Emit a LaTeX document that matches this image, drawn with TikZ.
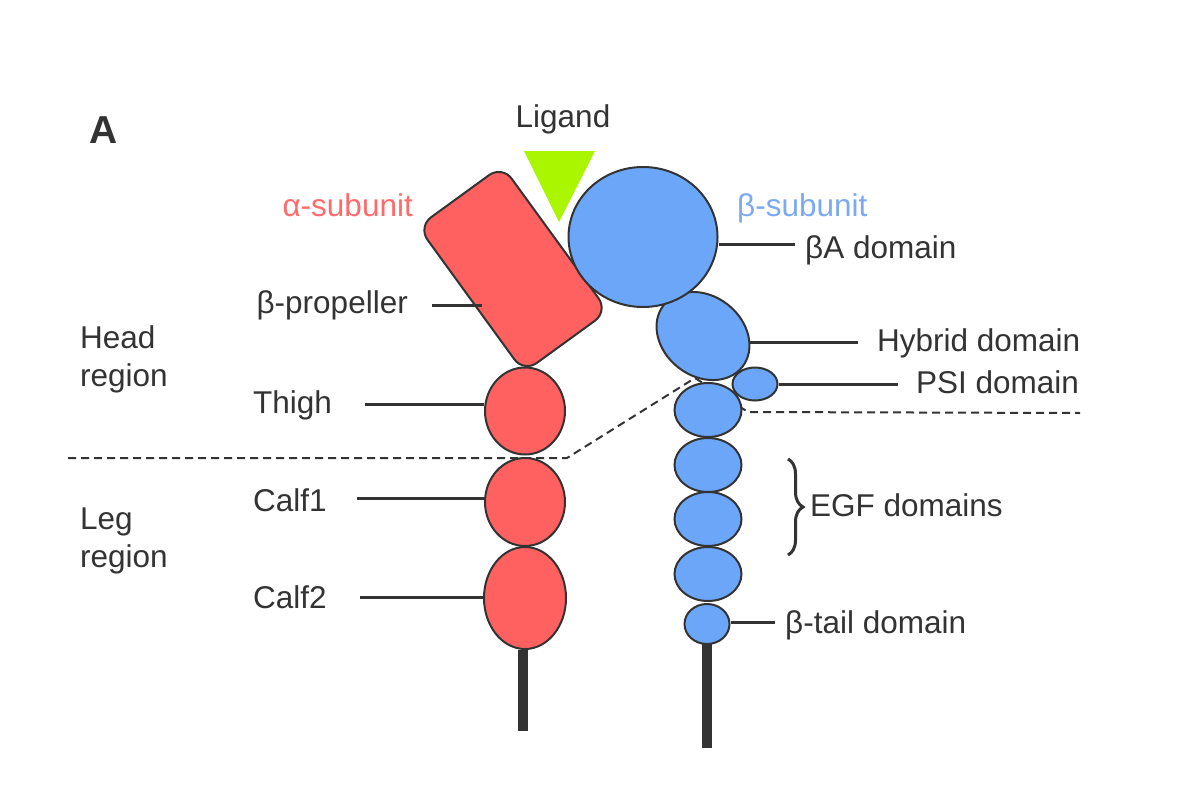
\documentclass[tikz,border=0pt]{standalone}
\usepackage{fontspec}
\setmainfont{Liberation Sans}
\usetikzlibrary{shapes.geometric,decorations.pathreplacing}
\definecolor{redf}{HTML}{FF6161}
\definecolor{bluef}{HTML}{6CA6F8}
\definecolor{greenf}{HTML}{AAF500}
\definecolor{ink}{HTML}{333333}
\definecolor{alab}{HTML}{FF6B6B}
\definecolor{blab}{HTML}{7BA9F2}
\begin{document}
\begin{tikzpicture}[x=1pt,y=-1pt,
  lbl/.style={font=\fontsize{31.5}{38}\selectfont, text=ink, inner sep=0pt, anchor=base west},
  dom/.style={ellipse, draw=ink, line width=2pt, inner sep=0pt},
  rdom/.style={dom, fill=redf},
  bdom/.style={dom, fill=bluef},
  lead/.style={draw=ink, line width=3pt},
  stem/.style={draw=ink, line width=10pt},
  sep/.style={draw=ink, line width=2pt, dash pattern=on 8pt off 5pt}]
\useasboundingbox (0,0) rectangle (1200,800);
\fill[white] (0,0) rectangle (1200,800);

% region separator
\coordinate (d1) at (68,458);
\coordinate (d2) at (567,458);
\coordinate (d3) at (695,378);
\coordinate (d4) at (748,412);
\coordinate (d5) at (1080,413);
\draw[sep] (d1) -- (d2) -- (d3) -- (d4) -- (d5);

% stems
\coordinate (rs1) at (523,650);
\coordinate (rs2) at (523,731);
\coordinate (bs1) at (707,640);
\coordinate (bs2) at (707,748);
\draw[stem] (rs1) -- (rs2);
\draw[stem] (bs1) -- (bs2);

% alpha subunit
\node[draw=ink, line width=2pt, fill=redf, rounded corners=16pt, minimum width=180, minimum height=104, rotate=-54] (prop) at (513,269) {};
\node[rdom, minimum width=80, minimum height=87] (thigh) at (525,411) {};
\node[rdom, minimum width=80, minimum height=88] (calf1) at (525,502) {};
\node[rdom, minimum width=82, minimum height=102] (calf2) at (525,598) {};

% beta subunit
\node[bdom, minimum width=67, minimum height=54] (egf4) at (708,574) {};
\node[bdom, minimum width=67, minimum height=54] (egf3) at (708,519) {};
\node[bdom, minimum width=67, minimum height=54] (egf2) at (708,465) {};
\node[bdom, minimum width=67, minimum height=54] (egf1) at (708,410) {};
\node[bdom, minimum width=45, minimum height=40] (tail) at (707,624) {};
\node[bdom, minimum width=45, minimum height=33] (psi) at (755,384) {};
\node[bdom, minimum width=100, minimum height=80, rotate=-38] (hyb) at (703,336) {};
\node[bdom, minimum width=149, minimum height=140] (bA) at (643,237) {};

% ligand
\coordinate (g1) at (524,151);
\coordinate (g2) at (595,151);
\coordinate (g3) at (559,222);
\fill[greenf] (g1) -- (g2) -- (g3) -- cycle;

% texts
\node[font=\bfseries\fontsize{39}{44}\selectfont, text=ink, inner sep=0pt] (A) at (104,130) {A};
\node[lbl, anchor=center] (tlig) at (563,119) {Ligand};
\node[lbl, anchor=base east, text=alab] (talpha) at (413,216) {α-subunit};
\node[lbl, text=blab] (tbeta) at (737,216) {β-subunit};
\node[lbl, anchor=base east] (tprop) at (408,313) {β-propeller};
\node[lbl] (tthigh) at (253,413) {Thigh};
\node[lbl] (tcalf1) at (253,511) {Calf1};
\node[lbl] (tcalf2) at (253,608) {Calf2};
\node[lbl, anchor=west, align=left] (thead) at (80,359) {Head\\region};
\node[lbl, anchor=west, align=left] (tleg) at (80,541) {Leg\\region};
\node[lbl] (tbA) at (805,258) {βA domain};
\node[lbl] (thyb) at (877,351) {Hybrid domain};
\node[lbl] (tpsi) at (916,393) {PSI domain};
\node[lbl] (tegf) at (810,516) {EGF domains};
\node[lbl] (ttail) at (785,633) {β-tail domain};

% leaders
\coordinate (lp) at (432,305);
\coordinate (lt) at (365,404);
\coordinate (lc1) at (357,498);
\coordinate (lc2) at (360,597);
\coordinate (lbA) at (795,244);
\coordinate (lh) at (858,342);
\coordinate (lpsi) at (898,384);
\coordinate (ltail) at (775,622);
\draw[lead] (lp) -- (482,305);
\draw[lead] (lt) -- (lt -| thigh.west);
\draw[lead] (lc1) -- (lc1 -| calf1.west);
\draw[lead] (lc2) -- (lc2 -| calf2.west);
\draw[lead] (lbA) -- (lbA -| bA.east);
\draw[lead] (lh) -- (749,342);
\draw[lead] (lpsi) -- (lpsi -| psi.east);
\draw[lead] (ltail) -- (ltail -| tail.east);
\coordinate (b1) at (788,459);
\coordinate (b2) at (788,555);
\draw[ink, line width=3pt, decorate, decoration={brace, amplitude=15pt}] (b1) -- (b2);
\end{tikzpicture}
\end{document}
